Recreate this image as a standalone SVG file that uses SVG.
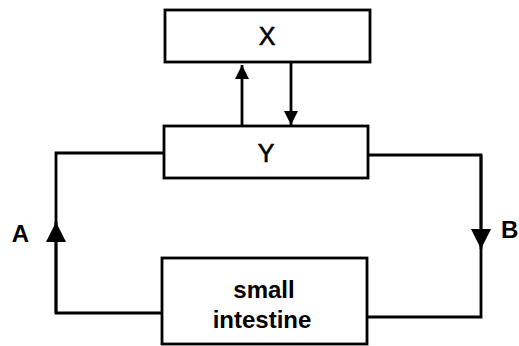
<svg xmlns="http://www.w3.org/2000/svg" width="519" height="346" viewBox="0 0 519 346">
<style>
.box{fill:#fff;stroke:#000;stroke-width:2.8}
.ln{fill:none;stroke:#000;stroke-width:2.8}
text{font-family:"Liberation Sans",Arial,sans-serif;fill:#000;text-anchor:middle}
.big{font-size:25px;stroke:#000;stroke-width:0.6}
.mid{font-size:24px;font-weight:bold}
</style>
<defs>
<marker id="sm" viewBox="0 0 10 10" refX="10" refY="5" markerWidth="14" markerHeight="15" markerUnits="userSpaceOnUse" orient="auto">
<path d="M0,0 L10,5 L0,10 Z" fill="#000"/>
</marker>
<marker id="lg" viewBox="0 0 10 10" refX="10" refY="5" markerWidth="22" markerHeight="20" markerUnits="userSpaceOnUse" orient="auto">
<path d="M0,0 L10,5 L0,10 Z" fill="#000"/>
</marker>
</defs>
<rect width="519" height="346" fill="#fff"/>
<g id="connectors">
<path class="ln" d="M242,126 V65" marker-end="url(#sm)"/>
<path class="ln" d="M291,62 V125" marker-end="url(#sm)"/>
<path class="ln" d="M162,313 H56 V153 H164"/>
<path class="ln" d="M56,313 V222" marker-end="url(#lg)"/>
<path class="ln" d="M368,155 H481 V317 H367"/>
<path class="ln" d="M481,155 V249" marker-end="url(#lg)"/>
</g>
<g id="X"><rect class="box" x="165" y="10" width="205" height="52"/><text class="big" x="267" y="45">X</text></g>
<g id="Y"><rect class="box" x="164" y="126" width="204" height="52"/><text class="big" x="266" y="162">Y</text></g>
<g id="small-intestine"><rect class="box" x="162" y="258" width="205" height="86"/><text class="mid" x="264" y="298">small</text><text class="mid" x="262" y="328">intestine</text></g>
<g id="labels"><text class="mid" x="20.5" y="242">A</text><text class="mid" x="501" y="238" style="text-anchor:start">B</text></g>
</svg>
